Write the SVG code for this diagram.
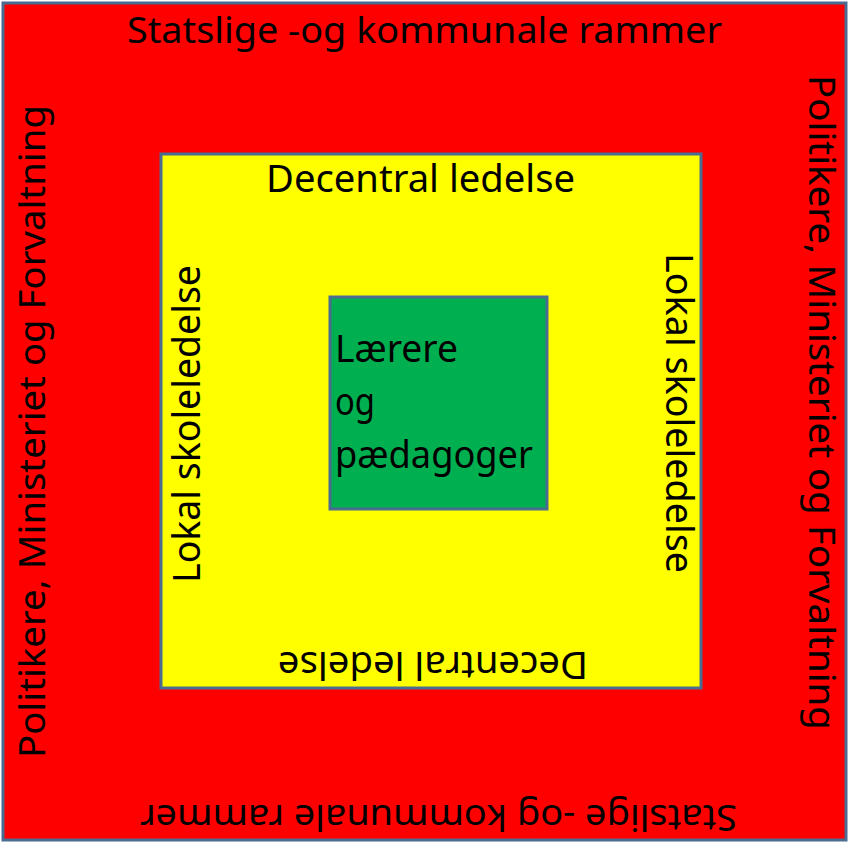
<svg xmlns="http://www.w3.org/2000/svg" width="848" height="844" viewBox="0 0 848 844">
<style>
.box{stroke:#4A6C91;stroke-width:3}
.t{font-family:"Noto Sans","Open Sans","DejaVu Sans",sans-serif;font-size:38px;fill:#000}
.o{font-size:36px}
.m{text-anchor:middle}
</style>
<rect width="848" height="844" fill="#ffffff"/>
<g id="outer">
<rect class="box" x="3" y="3" width="843" height="837" fill="#FF0000"/>
<text class="t o m" x="424.5" y="43" textLength="595" lengthAdjust="spacingAndGlyphs">Statslige -og kommunale rammer</text>
<text class="t o m" transform="translate(438.5,805) rotate(180)" textLength="597" lengthAdjust="spacingAndGlyphs">Statslige -og kommunale rammer</text>
<text class="t o m" transform="translate(45,431.5) rotate(-90)" textLength="653" lengthAdjust="spacingAndGlyphs">Politikere, Ministeriet og Forvaltning</text>
<text class="t o m" transform="translate(809,402.5) rotate(90)" textLength="655" lengthAdjust="spacingAndGlyphs">Politikere, Ministeriet og Forvaltning</text>
</g>
<g id="middle">
<rect class="box" x="161" y="154" width="540" height="534" fill="#FFFF00"/>
<text class="t m" x="420.5" y="192" textLength="309" lengthAdjust="spacingAndGlyphs">Decentral ledelse</text>
<text class="t m" transform="translate(433,652) rotate(180)" textLength="310" lengthAdjust="spacingAndGlyphs">Decentral ledelse</text>
<text class="t m" transform="translate(200,424) rotate(-90)" textLength="318" lengthAdjust="spacingAndGlyphs">Lokal skoleledelse</text>
<text class="t m" transform="translate(666,413) rotate(90)" textLength="320" lengthAdjust="spacingAndGlyphs">Lokal skoleledelse</text>
</g>
<g id="inner">
<rect class="box" x="330" y="297" width="217" height="212" fill="#00B050"/>
<text class="t" x="335" y="362" textLength="123" lengthAdjust="spacingAndGlyphs">Lærere</text>
<text class="t" x="335" y="415" textLength="40" lengthAdjust="spacingAndGlyphs">og</text>
<text class="t" x="335" y="468" textLength="198" lengthAdjust="spacingAndGlyphs">pædagoger</text>
</g>
</svg>
